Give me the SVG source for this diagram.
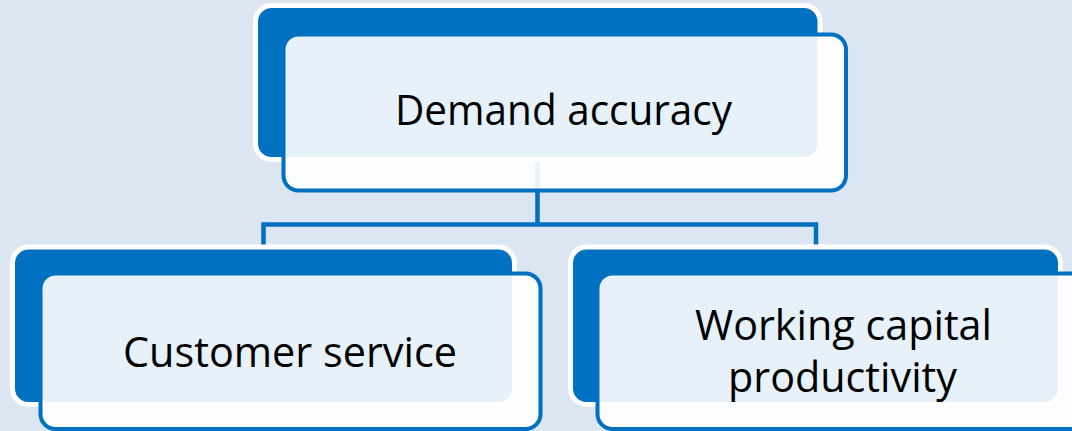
<svg xmlns="http://www.w3.org/2000/svg" width="1072" height="431" viewBox="0 0 1072 431">
<style>
.back{fill:#0070C0;stroke:#FFFFFF;stroke-width:5}
.front{fill:#FFFFFF;fill-opacity:0.9;stroke:#0070C0;stroke-width:4}
.conn{fill:none;stroke:#0070C0;stroke-width:4.5}
.lbl{font-family:"Open Sans","Noto Sans","Liberation Sans",sans-serif;font-size:42px;fill:#000000;text-anchor:middle}
</style>
<rect x="0" y="0" width="1072" height="431" fill="#DCE6F2"/>
<g id="connectors">
<path class="conn" d="M537.5 158 V224.5 M263.5 247 V224.5 H816 V247"/>
</g>
<g id="node-demand">
<rect class="back" x="255.5" y="5.5" width="564.5" height="154" rx="16"/>
<rect class="front" x="283.5" y="34.5" width="562.5" height="156" rx="15"/>
<text class="lbl" x="563.5" y="125" textLength="337" lengthAdjust="spacingAndGlyphs">Demand accuracy</text>
</g>
<g id="node-customer">
<rect class="back" x="12.5" y="247" width="502" height="157.5" rx="16"/>
<rect class="front" x="40.5" y="273.5" width="500" height="155.5" rx="15"/>
<text class="lbl" x="290" y="367" textLength="334" lengthAdjust="spacingAndGlyphs">Customer service</text>
</g>
<g id="node-working">
<rect class="back" x="570.5" y="247" width="490" height="157.5" rx="16"/>
<rect class="front" x="597.5" y="273.5" width="492" height="155.5" rx="15"/>
<text class="lbl" x="843.5" y="340" textLength="297" lengthAdjust="spacingAndGlyphs">Working capital</text>
<text class="lbl" x="842.5" y="392" textLength="229" lengthAdjust="spacingAndGlyphs">productivity</text>
</g>
</svg>
